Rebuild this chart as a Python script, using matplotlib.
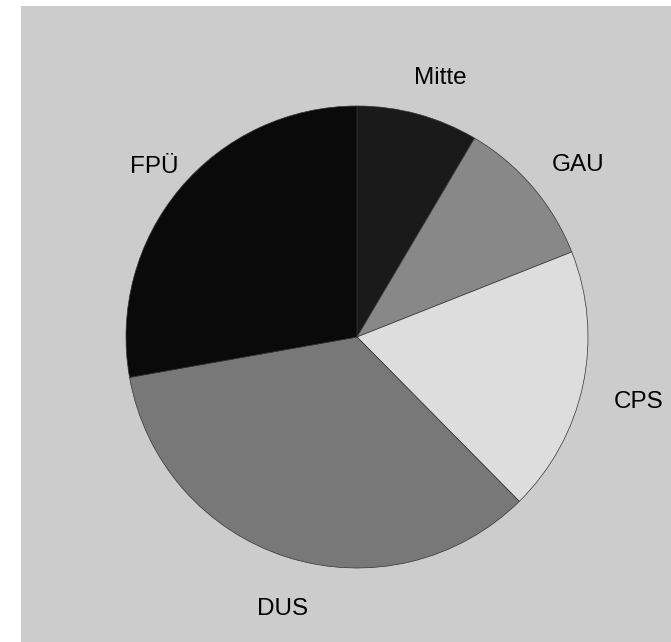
import matplotlib
matplotlib.use('Agg')
import matplotlib.pyplot as plt
from matplotlib.transforms import offset_copy

plt.rcParams['font.family'] = ['Liberation Sans', 'DejaVu Sans']

# Daten (Anteile in Prozent, im Uhrzeigersinn ab 12 Uhr)
parteien = ['Mitte', 'GAU', 'CPS', 'DUS', 'FPÜ']
anteile = [8.5, 10.5, 18.6, 34.6, 27.8]
farben = ['#1a1a1a', '#888888', '#dddddd', '#787878', '#0a0a0a']

W, H = 671, 642
fig = plt.figure(figsize=(W / 100, H / 100), dpi=100)
fig.patch.set_facecolor('white')

# grauer Hintergrund
bg = fig.add_axes([21 / W, 0, 1 - 21 / W, 1 - 6 / H])
bg.set_facecolor('#cccccc')
bg.set_xticks([])
bg.set_yticks([])
for s in bg.spines.values():
    s.set_visible(False)

ax = fig.add_axes([0, 0, 1, 1])
ax.patch.set_alpha(0)
wedges, texts = ax.pie(anteile, labels=parteien, colors=farben,
                       startangle=90, counterclock=False,
                       center=(357, H - 337), radius=231,
                       labeldistance=1.2,
                       wedgeprops=dict(edgecolor='#333333', linewidth=0.5),
                       textprops=dict(fontsize=17.5, color='black',
                                      ha='center', va='center'))
ax.set_xlim(0, W)
ax.set_ylim(0, H)
ax.axis('off')

# Beschriftungen etwas nach rechts unten versetzt
for t in texts:
    t.set_transform(offset_copy(t.get_transform(), fig=fig, x=10, y=-8, units='dots'))

plt.savefig('out.png', dpi=100)
